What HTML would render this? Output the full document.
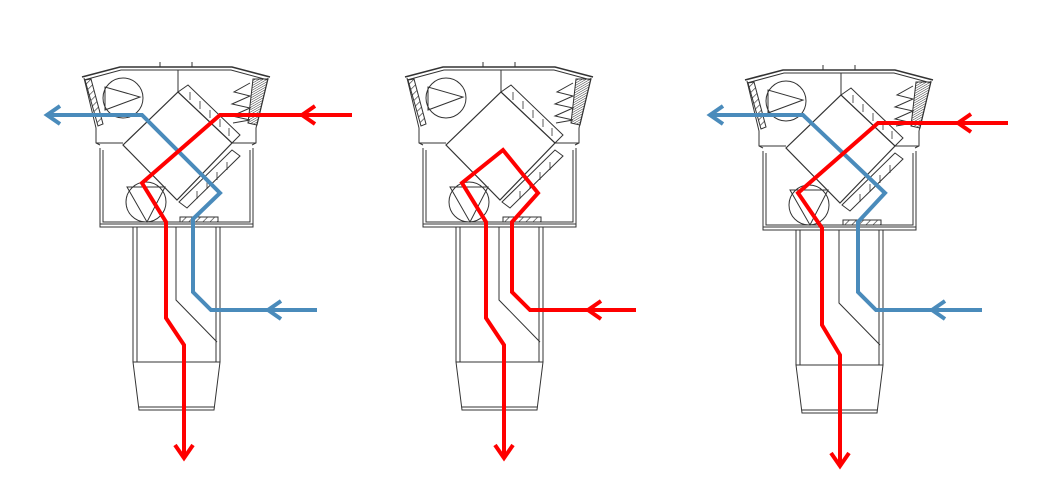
<!DOCTYPE html>
<html><head><meta charset="utf-8"><style>html,body{margin:0;padding:0;background:#fff}svg{display:block}</style></head>
<body>
<svg width="1044" height="502" viewBox="0 0 1044 502" xmlns="http://www.w3.org/2000/svg">
<defs>
<pattern id="hatch" width="5" height="5" patternUnits="userSpaceOnUse" patternTransform="rotate(45)"><line x1="0" y1="0" x2="0" y2="5" stroke="#333" stroke-width="1.3"/></pattern>
<pattern id="grille" width="2" height="2" patternUnits="userSpaceOnUse" patternTransform="rotate(-30)"><line x1="0" y1="0" x2="2" y2="0" stroke="#333" stroke-width="1"/></pattern>
<g id="unit" fill="none" stroke="#333" stroke-width="1">
  <path d="M82,77 L120,67 L232,67 L270,77" stroke-width="1.6"/>
  <path d="M84,80 L121,70 L231,70 L268,80"/>
  <line x1="160" y1="62" x2="160" y2="67"/><line x1="192" y1="62" x2="192" y2="67"/>
  <line x1="178" y1="70" x2="178" y2="92"/>
  <path d="M84,78 L96,128 L96,143 L100,145"/>
  <path d="M268,78 L256,128 L256,143 L252,145"/>
  <polygon points="85,80 91,79 103,124 98,126" fill="url(#hatch)"/>
  <polygon points="253,79 268,79 257,125 248,123" fill="url(#grille)"/>
  <path d="M250,83 L234,92 L250,96 L232,104 L250,108 L232,116 L250,120 L233,123"/>
  <line x1="96" y1="143" x2="123" y2="143"/><line x1="232" y1="143" x2="256" y2="143"/>
  <path d="M100,148 L100,227 L253,227 L253,148"/>
  <path d="M103,150 L103,222 L250,222 L250,150"/>
  <line x1="100" y1="224" x2="253" y2="224"/>
  <rect x="180" y="217" width="38" height="5" fill="url(#hatch)"/>
  <circle cx="123" cy="98" r="20"/><path d="M105,87 L105,110 L140,97 Z"/>
  <circle cx="146" cy="202" r="20"/><path d="M127,187 L165,187 L147,222 Z"/>
  <polygon points="178,92 232,143 177,200 123,145" stroke-width="1.2"/>
  <polygon points="178,92 188,85 240,135 232,143"/>
  <polygon points="232,150 240,156 187,208 179,202"/>
  <path d="M190,92v8M200,101v8M210,110v8M220,119v8M229,128v8M227,162v8M217,172v8M207,181v8M197,191v8" stroke-width="0.8"/>
  <path d="M133,227 L133,362 M137,227 L137,362 M216,227 L216,362 M220,227 L220,362"/>
  <path d="M176,227 L176,300 L217,342"/>
  <path d="M133,362 L220,362 L214,410 L139,410 Z"/>
  <line x1="139" y1="407" x2="214" y2="407"/>
</g>
</defs>
<use href="#unit"/>
<use href="#unit" transform="translate(323,0)"/>
<use href="#unit" transform="translate(663,3)"/>
<g fill="none" stroke-width="4" stroke-linejoin="miter">
  <path d="M47,115 L142,115 L220,193 L193,219 L193,292 L211,310 L317,310" stroke="#4a8bbb"/>
  <path d="M60,106 L47,115 L60,124 M281,301 L268,310 L281,319" stroke="#4a8bbb"/>
  <path d="M352,115 L220,115 L142,183 L166,222 L166,318 L184,345 L184,458" stroke="red"/>
  <path d="M315,106 L302,115 L315,124 M175,445 L184,458 L193,445" stroke="red"/>
  <path d="M636,310 L530,310 L512,292 L512,222 L538,193 L503,150 L462,183 L486,222 L486,318 L504,345 L504,458" stroke="red"/>
  <path d="M601,301 L588,310 L601,319 M495,445 L504,458 L513,445" stroke="red"/>
  <path d="M710,115 L803,115 L885,193 L858,222 L858,292 L876,310 L982,310" stroke="#4a8bbb"/>
  <path d="M723,106 L710,115 L723,124 M945,301 L932,310 L945,319" stroke="#4a8bbb"/>
  <path d="M1008,123 L878,123 L798,193 L822,228 L822,325 L840,355 L840,466" stroke="red"/>
  <path d="M971,114 L958,123 L971,132 M831,453 L840,466 L849,453" stroke="red"/>
</g>
</svg>
</body></html>
